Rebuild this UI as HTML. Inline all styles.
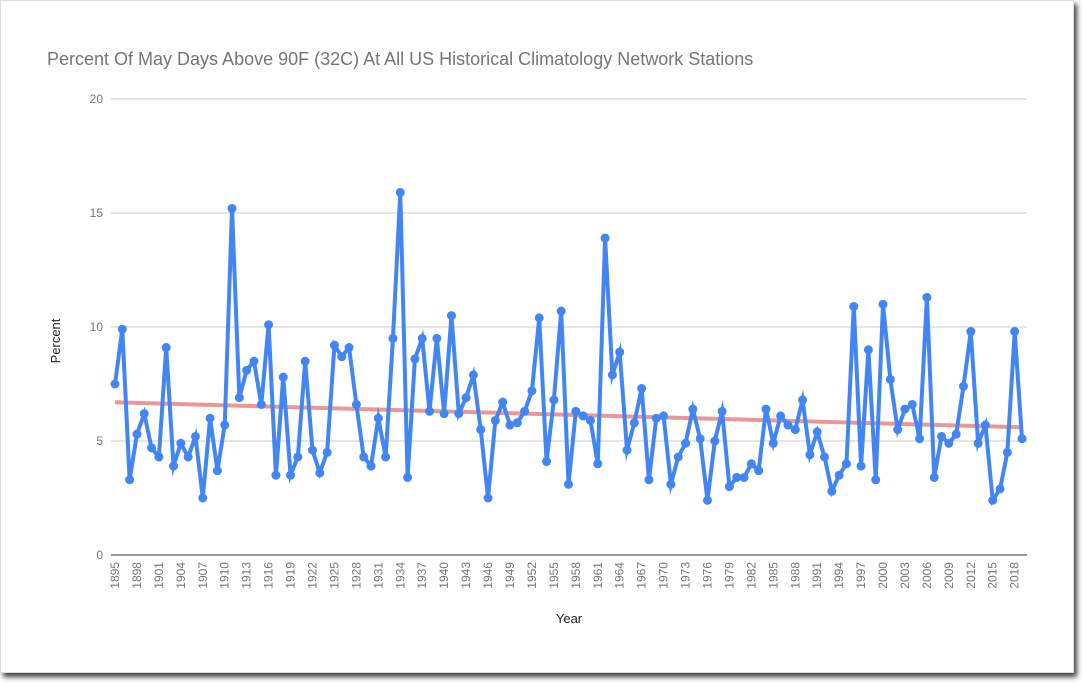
<!DOCTYPE html>
<html><head><meta charset="utf-8"><style>
body{margin:0;width:1083px;height:684px;background:#fff;overflow:hidden;font-family:"Liberation Sans",sans-serif}
#panel{position:absolute;left:0;top:0;width:1074px;height:673px;background:#fff;box-shadow:3px 4px 5px rgba(0,0,0,0.75);border:1px solid #ddd;box-sizing:border-box}
</style></head><body>
<div id="panel"></div>
<svg id="chart" width="1083" height="684" style="position:absolute;left:0;top:0">
<text x="47" y="65" font-size="18" fill="#757575">Percent Of May Days Above 90F (32C) At All US Historical Climatology Network Stations</text>
<text x="60" y="341" font-size="13" fill="#222" transform="rotate(-90 60 341)" text-anchor="middle">Percent</text>
<text x="569" y="623" font-size="13" fill="#222" text-anchor="middle">Year</text>
<g id="grid"></g><g id="xt"></g><g id="marks"></g>
</svg>
<script>
const years=[];for(let y=1895;y<=2019;y++)years.push(y);
const values=[7.5,9.9,3.3,5.3,6.2,4.7,4.3,9.1,3.9,4.9,4.3,5.2,2.5,6.0,3.7,5.7,15.2,6.9,8.1,8.5,6.6,10.1,3.5,7.8,3.5,4.3,8.5,4.6,3.6,4.5,9.2,8.7,9.1,6.6,4.3,3.9,6.0,4.3,9.5,15.9,3.4,8.6,9.5,6.3,9.5,6.2,10.5,6.2,6.9,7.9,5.5,2.5,5.9,6.7,5.7,5.8,6.3,7.2,10.4,4.1,6.8,10.7,3.1,6.3,6.1,5.9,4.0,13.9,7.9,8.9,4.6,5.8,7.3,3.3,6.0,6.1,3.1,4.3,4.9,6.4,5.1,2.4,5.0,6.3,3.0,3.4,3.4,4.0,3.7,6.4,4.9,6.1,5.7,5.5,6.8,4.4,5.4,4.3,2.8,3.5,4.0,10.9,3.9,9.0,3.3,11.0,7.7,5.5,6.4,6.6,5.1,11.3,3.4,5.2,4.9,5.3,7.4,9.8,4.9,5.7,2.4,2.9,4.5,9.8,5.1];
const yTicks=[0,5,10,15,20];
const trend=[6.7,5.6];
const NS='http://www.w3.org/2000/svg';
const X=i=>115+i*(1022-115)/(years.length-1);
const Y=v=>555-v*(555-99)/20;
function mk(t,a,p){const e=document.createElementNS(NS,t);for(const k in a)e.setAttribute(k,a[k]);p.appendChild(e);return e;}
const grid=document.getElementById('grid'),xt=document.getElementById('xt'),marks=document.getElementById('marks');
yTicks.forEach(v=>{
 const l=mk('line',{x1:111,x2:1027,y1:Y(v),y2:Y(v),stroke:v===0?'#333':'#ccc','stroke-width':1},grid);
 
 
 const t=mk('text',{x:103,y:Y(v)+4,'text-anchor':'end','font-size':12,fill:'#757575'},grid);
 t.textContent=v;
 
 
});
years.forEach((yr,i)=>{
 if((yr-1895)%3)return;
 const x=X(i)+4;
 const t=mk('text',{x:x,y:562,'text-anchor':'end','font-size':12,fill:'#757575',transform:`rotate(-90 ${x} 562)`},xt);
 t.textContent=yr;
 
 
});
const tl=mk('line',{x1:X(0),y1:Y(trend[0]),x2:X(years.length-1),y2:Y(trend[1]),stroke:'#e57373','stroke-opacity':0.75,'stroke-width':4},marks);


const pl=mk('polyline',{points:values.map((v,i)=>X(i)+','+Y(v)).join(' '),fill:'none',stroke:'#4285f4','stroke-width':4,'stroke-linejoin':'miter','stroke-miterlimit':6},marks);


values.forEach((v,i)=>{
 const c=mk('circle',{cx:X(i),cy:Y(v),r:4.5,fill:'#4285f4'},marks);
 
 
});
</script>
</body></html>
